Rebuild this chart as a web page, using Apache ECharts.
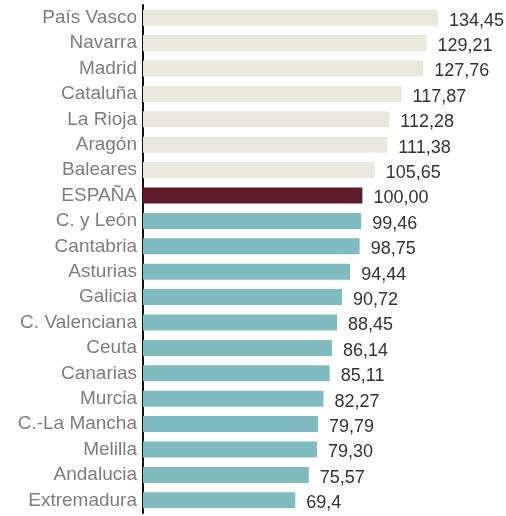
<!DOCTYPE html>
<html><head><meta charset="utf-8">
<script src="https://cdn.jsdelivr.net/npm/echarts@6/dist/echarts.min.js"></script>
<style>html,body{margin:0;padding:0;background:#fff}#c{width:506px;height:516px}</style>
</head><body><div id="c"></div>
<script>
const categories = ["País Vasco","Navarra","Madrid","Cataluña","La Rioja","Aragón","Baleares","ESPAÑA","C. y León","Cantabria","Asturias","Galicia","C. Valenciana","Ceuta","Canarias","Murcia","C.-La Mancha","Melilla","Andalucia","Extremadura"];
const values = [134.45,129.21,127.76,117.87,112.28,111.38,105.65,100.00,99.46,98.75,94.44,90.72,88.45,86.14,85.11,82.27,79.79,79.30,75.57,69.4];
const valueLabels = ["134,45","129,21","127,76","117,87","112,28","111,38","105,65","100,00","99,46","98,75","94,44","90,72","88,45","86,14","85,11","82,27","79,79","79,30","75,57","69,4"];
const refName = "ESPAÑA";

const refVal = values[categories.indexOf(refName)];
function colorFor(i){
  if (categories[i] === refName) return '#5e1b2c';
  return values[i] > refVal ? '#e8e9dc' : '#80bcbf';
}
const chart = echarts.init(document.getElementById('c'), null, {renderer:'canvas'});
chart.setOption({
  animation:false,
  grid:{left:143,top:5,width:351,height:508,containLabel:false},
  xAxis:{type:'value',min:0,max:160,show:false},
  yAxis:{type:'category',data:categories,inverse:true,
    axisLine:{show:true,lineStyle:{color:'#111',width:2}},
    axisTick:{show:false},
    axisLabel:{color:'#7d7d7d',fontSize:19,fontFamily:'Liberation Sans',margin:6}
  },
  series:[{type:'bar',barWidth:16,
    data:values.map((v,i)=>({value:v,itemStyle:{color:colorFor(i)}})),
    label:{show:true,position:'right',distance:11,color:'#333',fontSize:18,fontFamily:'Liberation Sans',
      offset:[0,3],
      formatter:p=>valueLabels[p.dataIndex]}
  }]
});
</script></body></html>
